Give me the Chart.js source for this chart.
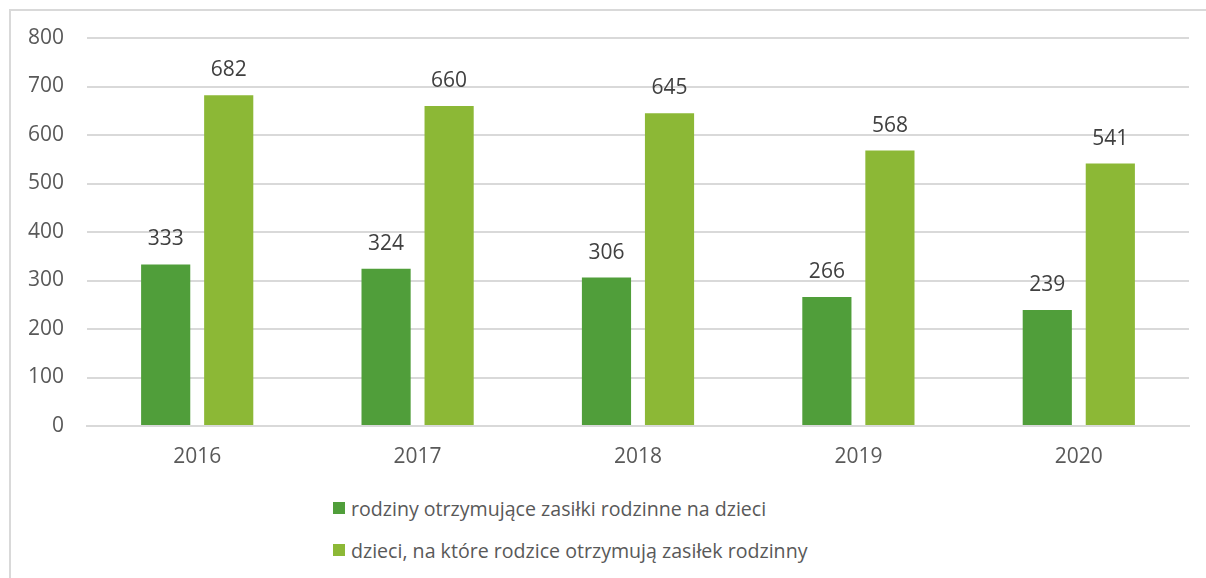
<!DOCTYPE html>
<html>
<head>
<meta charset="utf-8">
<script src="https://cdn.jsdelivr.net/npm/chart.js@4"></script>
<style>
    body { margin: 0; background: #fff; }
    #frame {
        position: absolute; left: 9px; top: 9px; width: 1197px; height: 569px;
        border-top: 2px solid #d9d9d9; border-left: 2px solid #d9d9d9;
        box-sizing: border-box;
    }
    #wrap { position: absolute; left: 0; top: 0; width: 1206px; height: 480px; }
    #legend {
        position: absolute; left: 333px; top: 487px;
        font-family: "Open Sans", sans-serif; font-size: 19.6px; color: #595959;
    }
    #legend div { height: 42px; display: flex; align-items: center; }
    #legend span.box { width: 12px; height: 12px; margin-right: 6px; display: inline-block; }
</style>
</head>
<body>
<div id="frame"></div>
<div id="wrap"><canvas id="chart" width="1206" height="480"></canvas></div>
<div id="legend"></div>
<script>
const years = ['2016', '2017', '2018', '2019', '2020'];
const families = [333, 324, 306, 266, 239];
const children = [682, 660, 645, 568, 541];
const seriesNames = [
    'rodziny otrzymujące zasiłki rodzinne na dzieci',
    'dzieci, na które rodzice otrzymują zasiłek rodzinny'
];
const seriesColors = ['#509e3a', '#8cb836'];
const yTicks = [0, 100, 200, 300, 400, 500, 600, 700, 800];

const fontFamily = '"Open Sans", sans-serif';

// etykiety wartosci nad slupkami
const valueLabels = {
    id: 'valueLabels',
    afterDatasetsDraw(chart) {
        const ctx = chart.ctx;
        ctx.save();
        ctx.font = '21px ' + fontFamily;
        ctx.fillStyle = '#404040';
        ctx.textAlign = 'center';
        ctx.textBaseline = 'middle';
        chart.data.datasets.forEach((ds, i) => {
            chart.getDatasetMeta(i).data.forEach((bar, j) => {
                ctx.fillText(ds.data[j], bar.x, bar.y - 25);
            });
        });
        ctx.restore();
    }
};

const datasets = [families, children].map((values, i) => ({
    label: seriesNames[i],
    data: values,
    backgroundColor: seriesColors[i],
    categoryPercentage: 0.572,
    barPercentage: 0.78
}));

new Chart(document.getElementById('chart'), {
    type: 'bar',
    data: { labels: years, datasets: datasets },
    options: {
        responsive: false,
        animation: false,
        layout: { padding: { top: 38, right: 17, left: 0, bottom: 0 } },
        plugins: {
            legend: { display: false },
            tooltip: { enabled: false }
        },
        scales: {
            x: {
                grid: { display: false, drawTicks: false },
                border: { color: '#d9d9d9', width: 2 },
                ticks: { color: '#595959', font: { family: fontFamily, size: 21 }, padding: 18 },
                afterFit: s => { s.height = 54; }
            },
            y: {
                min: 0,
                max: 800,
                afterBuildTicks: s => { s.ticks = yTicks.map(v => ({ value: v })); },
                grid: { color: '#d9d9d9', lineWidth: 2, drawTicks: false },
                border: { display: false },
                ticks: { color: '#595959', font: { family: fontFamily, size: 21 }, padding: 23 },
                afterFit: s => { s.width = 87; }
            }
        }
    },
    plugins: [valueLabels]
});

const legend = document.getElementById('legend');
seriesNames.forEach((name, i) => {
    const row = document.createElement('div');
    const box = document.createElement('span');
    box.className = 'box';
    box.style.background = seriesColors[i];
    row.appendChild(box);
    row.appendChild(document.createTextNode(name));
    legend.appendChild(row);
});
</script>
</body>
</html>
